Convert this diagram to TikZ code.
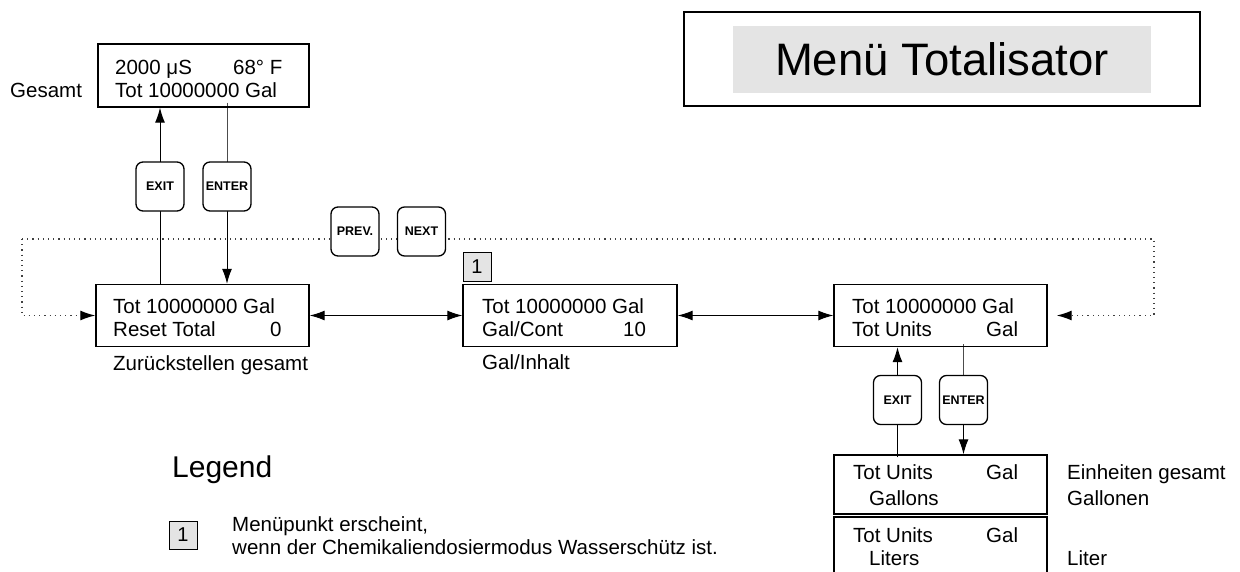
\documentclass[tikz,border=0pt]{standalone}
\usepackage{fontspec}
\setmainfont{Liberation Sans}
\usetikzlibrary{arrows.meta,backgrounds}
\definecolor{lgray}{HTML}{E4E4E4}
\tikzset{
  x=1pt,y=-1pt,
  screen/.style={draw,line width=1.4pt,minimum width=213pt,minimum height=62pt,inner sep=0pt},
  txt/.style={anchor=base west,inner sep=0pt,font=\fontsize{20.5}{24}\selectfont},
  btn/.style={draw,line width=1.3pt,fill=white,rounded corners=7pt,minimum width=48pt,minimum height=49pt,inner sep=0pt,font=\bfseries\fontsize{12.5}{14}\selectfont},
  badge/.style={draw,line width=1pt,fill=lgray,minimum width=28pt,minimum height=29pt,inner sep=0pt,font=\fontsize{20}{24}\selectfont},
  arr/.style={line width=1pt,-{Latex[length=15pt,width=10pt]}},
  darr/.style={line width=1pt,{Latex[length=15pt,width=10pt]}-{Latex[length=15pt,width=10pt]}},
  gline/.style={line width=1pt,draw=black!70},
  dots/.style={line width=1.2pt,draw=black!75,dash pattern=on 1.2pt off 4pt,-{Latex[length=15pt,width=10pt,color=black]}},
}
\begin{document}
\begin{tikzpicture}
\useasboundingbox (0,0) rectangle (1240,571);
% title
\node[draw,line width=1.3pt,minimum width=516pt,minimum height=94pt,inner sep=0pt] (title) at (942,59) {};
\node[fill=lgray,minimum width=418pt,minimum height=67pt,inner sep=0pt,font=\fontsize{45.5}{50}\selectfont] (titletxt) at (942,59.5) {Menü Totalisator};
% screens
\node[screen,minimum width=211pt,minimum height=63pt] (top) at (203.5,75.5) {};
\node[txt] (t1) at (115,74) {2000 μS};
\node[txt] (t2) at (233,74) {68° F};
\node[txt] (t3) at (115,97) {Tot 10000000 Gal};
\node[txt] (gesamt) at (10,97) {Gesamt};

\node[screen] (lb) at (202.5,315.5) {};
\node[txt] (l1) at (113,313) {Tot 10000000 Gal};
\node[txt] (l2) at (113,336) {Reset Total};
\node[txt] (l3) at (270,336) {0};
\node[txt] (lcap) at (113,370) {Zurückstellen gesamt};

\node[screen,minimum width=214pt] (mb) at (570,315.5) {};
\node[txt] (m1) at (482,313) {Tot 10000000 Gal};
\node[txt] (m2) at (482,336) {Gal/Cont};
\node[txt] (m3) at (623,336) {10};
\node[txt] (mcap) at (482,369) {Gal/Inhalt};
\node[badge] (b1) at (477,267) {1};

\node[screen] (rb) at (940.5,315.5) {};
\node[txt] (r1) at (852,313) {Tot 10000000 Gal};
\node[txt] (r2) at (852,336) {Tot Units};
\node[txt] (r3) at (986,336) {Gal};

\node[screen,minimum height=59pt] (gb) at (940.5,484.5) {};
\node[txt] (g1) at (853,479) {Tot Units};
\node[txt] (g2) at (986,479) {Gal};
\node[txt] (g3) at (869,505) {Gallons};
\node[txt] (gcap1) at (1067,479) {Einheiten gesamt};
\node[txt] (gcap2) at (1067,505) {Gallonen};

\node[screen,minimum height=90pt] (lt) at (940.5,562) {};
\node[txt] (lt1) at (853,542) {Tot Units};
\node[txt] (lt2) at (986,542) {Gal};
\node[txt] (lt3) at (869,565) {Liters};
\node[txt] (ltcap) at (1067,565) {Liter};

% buttons
\node[btn] (exit1) at (160,186.5) {EXIT};
\node[btn] (enter1) at (227,186.5) {ENTER};
\node[btn] (prev) at (355,231.5) {PREV.};
\node[btn] (next) at (421.5,231.5) {NEXT};
\node[btn] (exit2) at (897.5,400) {EXIT};
\node[btn] (enter2) at (963.5,400) {ENTER};

% legend
\node[txt,font=\fontsize{30}{34}\selectfont] (legend) at (172,477) {Legend};
\node[badge,minimum height=28pt] (b2) at (183,535) {1};
\node[txt] (leg1) at (232,531) {Menüpunkt erscheint,};
\node[txt] (leg2) at (232,554) {wenn der Chemikaliendosiermodus Wasserschütz ist.};

\begin{scope}[on background layer]
\coordinate (dl) at (22,239);
\coordinate (dr) at (1154,239);
\draw[arr] (lb.north -| exit1.center) -- (top.south -| exit1.center);
\draw[gline] ([yshift=5pt]top.south -| enter1.center) -- (enter1.center);
\draw[arr] (enter1.center) -- (lb.north -| enter1.center);
\draw[darr] (lb.east) -- (mb.west);
\draw[darr] (mb.east) -- (rb.west);
\draw[dots] (dl) |- (lb.west);
\draw[dots] (dl) -- (dr) |- ([xshift=9pt]rb.east);
\draw[arr] ([yshift=-3pt]gb.north -| exit2.center) -- (rb.south -| exit2.center);
\draw[gline] ([yshift=3pt]rb.south -| enter2.center) -- (enter2.center);
\draw[arr] (enter2.center) -- (gb.north -| enter2.center);
\end{scope}
\end{tikzpicture}
\end{document}
